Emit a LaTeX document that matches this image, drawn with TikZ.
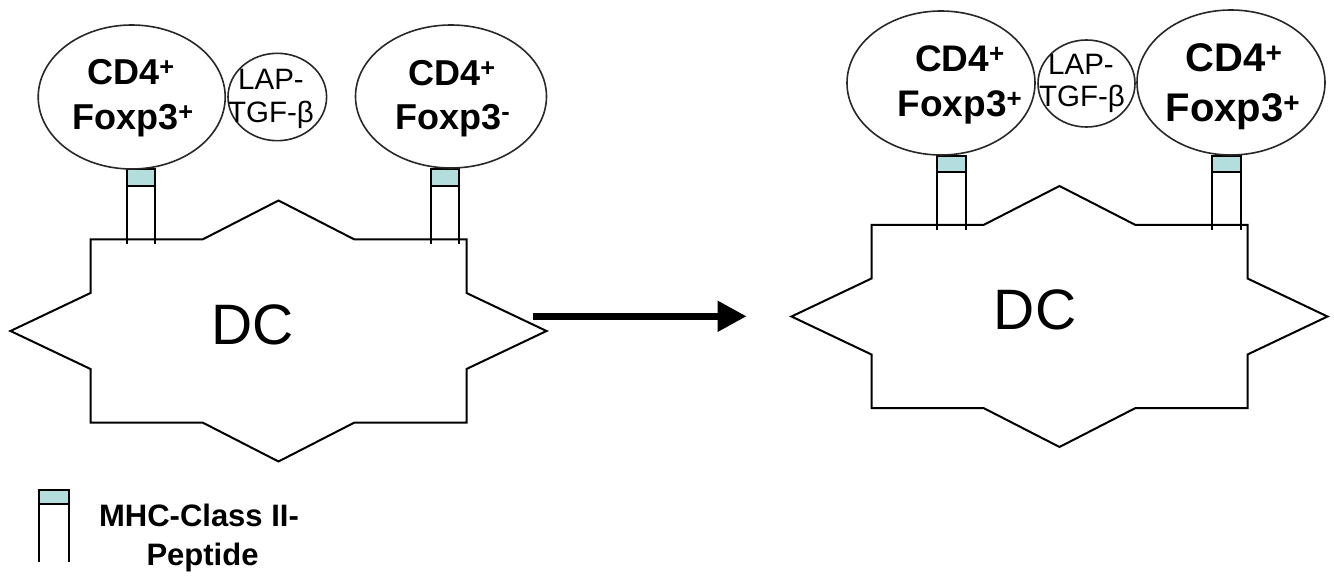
\documentclass[tikz,border=0pt]{standalone}
\usepackage{fontspec}
\setmainfont{Liberation Sans}
\usetikzlibrary{arrows.meta,shapes.geometric}
\definecolor{mhcband}{RGB}{180,222,222}
\definecolor{cellline}{RGB}{40,40,40}
\newcommand\DCcell[2]{%
  \draw[dcline] (#1,#2) ++(-188,-91.5) -- ++(112,0) -- ++(76,-39) -- ++(76,39) -- ++(112,0)
    -- ++(0,53.5) -- ++(80,38) -- ++(-80,38) -- ++(0,53.5) -- ++(-112,0) -- ++(-76,39)
    -- ++(-76,-39) -- ++(-112,0) -- ++(0,-53.5) -- ++(-80,-38) -- ++(80,-38) -- cycle;}
\newcommand\MHCmol[5]{%
  \filldraw[mhcline,fill=mhcband] (#1,#3) rectangle (#2,#4);
  \draw[mhcline] (#1,#4) -- (#1,#5) (#2,#4) -- (#2,#5);}
\tikzset{
  dcline/.style={line width=2pt,black,line join=miter},
  mhcline/.style={line width=2pt,black},
  cell/.style={draw=cellline,line width=1.6pt,ellipse,inner sep=0pt},
  lbl/.style={inner sep=0pt,anchor=base,font=\bfseries\fontsize{36}{36}\selectfont},
  laplbl/.style={inner sep=0pt,anchor=base,font=\fontsize{29.5}{29.5}\selectfont},
  dclbl/.style={inner sep=0pt,anchor=base,font=\fontsize{57}{57}\selectfont},
  leglbl/.style={inner sep=0pt,anchor=base,font=\bfseries\fontsize{31}{31}\selectfont},
}
\begin{document}
\begin{tikzpicture}[x=1pt,y=-1pt]
\fill[white] (0,0) rectangle (1334,577);
\useasboundingbox (0,0) rectangle (1334,577);

% ---------- left panel ----------
\DCcell{278.5}{331}
\node[dclbl] (dcL) at (253,345) {DC};
\MHCmol{126.7}{155.3}{169}{186}{244}
\MHCmol{430.7}{459.3}{169}{186}{244}
\node[cell,minimum width=187pt,minimum height=144pt] (eL1) at (131.7,97) {};
\node[cell,minimum width=98.6pt,minimum height=87.4pt] (lapL) at (277.3,97) {};
\node[cell,minimum width=191pt,minimum height=143pt] (eL2) at (451,96.5) {};
\node[lbl] (tL1a) at (131,85) {CD4\textsuperscript{+}};
\node[lbl] (tL1b) at (133,129.3) {Foxp3\textsuperscript{+}};
\node[laplbl] (tLa) at (271,90) {LAP-};
\node[laplbl] (tLb) at (271,123) {TGF-β};
\node[lbl] (tL2a) at (452,86) {CD4\textsuperscript{+}};
\node[lbl] (tL2b) at (452.7,130) {Foxp3\textsuperscript{-}};

% ---------- arrow ----------
\coordinate (arrS) at (532.7,316.3);
\coordinate (arrE) at (746.7,316.3);
\draw[line width=7.3pt,-{Triangle[length=29pt,width=29pt]}] (arrS) -- (arrE);

% ---------- right panel ----------
\DCcell{1059.5}{316.5}
\node[dclbl] (dcR) at (1035,330) {DC};
\MHCmol{936.5}{965.5}{156}{171.7}{230}
\MHCmol{1211.7}{1240.7}{156}{171.7}{230}
\node[cell,minimum width=188pt,minimum height=144pt] (eR1) at (941,83) {};
\node[cell,minimum width=97pt,minimum height=87pt] (lapR) at (1086.5,83.5) {};
\node[cell,minimum width=188pt,minimum height=145pt] (eR2) at (1231,82.5) {};
\node[lbl,font=\bfseries\fontsize{37}{37}\selectfont] (tR1a) at (960,71.7) {CD4\textsuperscript{+}};
\node[lbl,font=\bfseries\fontsize{37}{37}\selectfont] (tR1b) at (960,117) {Foxp3\textsuperscript{+}};
\node[laplbl] (tRa) at (1081,75) {LAP-};
\node[laplbl] (tRb) at (1082,106.7) {TGF-β};
\node[lbl,font=\bfseries\fontsize{40}{40}\selectfont] (tR2a) at (1234,71.7) {CD4\textsuperscript{+}};
\node[lbl,font=\bfseries\fontsize{40}{40}\selectfont] (tR2b) at (1233,121.7) {Foxp3\textsuperscript{+}};

% ---------- legend ----------
\MHCmol{39.3}{69.3}{490}{504}{561.7}
\node[leglbl] (legA) at (199,526.7) {MHC-Class II-};
\node[leglbl] (legB) at (202.5,565) {Peptide};
\end{tikzpicture}
\end{document}
